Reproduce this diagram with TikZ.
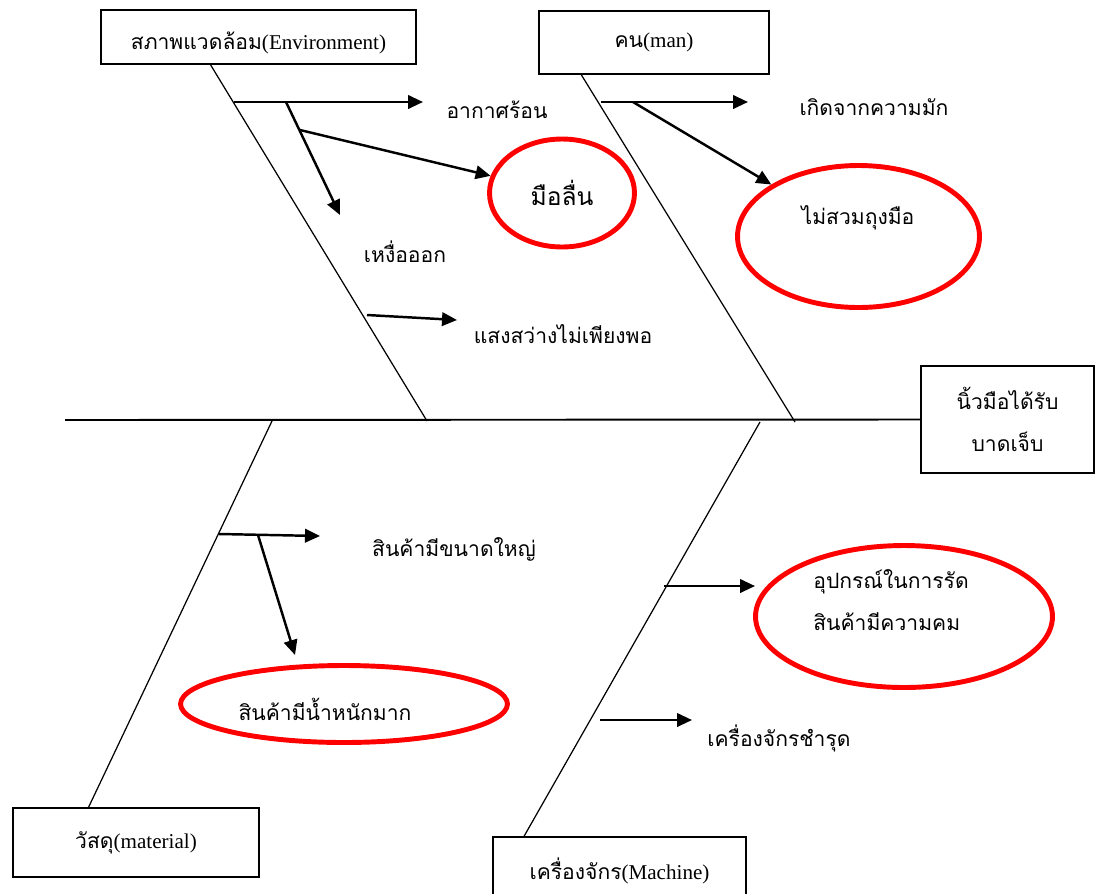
\documentclass[tikz,border=0pt]{standalone}
\usepackage{fontspec}
\setmainfont{Liberation Serif}
\newfontfamily\thaifont[Script=Thai]{Loma}
\usetikzlibrary{arrows.meta,shapes.geometric,calc}

\begin{document}
\begin{tikzpicture}
    [x=0.02cm, y=-0.02cm,
    font=\fontsize{12}{14}\selectfont,
    catbox/.style={draw, line width=1.1pt, rectangle, inner sep=0pt},
    bone/.style={draw, line width=0.7pt},
    cause/.style={draw, line width=1.4pt, -{Triangle[length=0.3cm,width=0.27cm]}},
    redring/.style={draw=red, line width=2.8pt, ellipse, inner sep=0pt},
    causetext/.style={font=\thaifont\fontsize{12}{14}\selectfont, inner sep=0pt}]
    \useasboundingbox (0,0) rectangle (1095,893);
    % head and spine
    \node[catbox, minimum width=3.46cm, minimum height=2.14cm, align=center,
        font=\thaifont\fontsize{12}{14}\selectfont] (injury) at (1007.5,419.5)
        {นิ้วมือได้รับ\\[10pt]บาดเจ็บ};
    \coordinate (tail) at (65,420);
    \draw[line width=1.1pt] (tail) -- (injury.west);
    % category boxes
    \node[catbox, minimum width=6.3cm, minimum height=1.08cm, text height=0.6cm, text depth=0.1cm]
        (envBox) at (258.5,37) {{\thaifont สภาพแวดล้อม}(Environment)};
    \node[catbox, minimum width=4.6cm, minimum height=1.26cm] (manBox) at (654,42.5)
        {{\thaifont คน}(man)};
    \node[catbox, minimum width=4.92cm, minimum height=1.38cm] (matBox) at (136,842.5)
        {{\thaifont วัสดุ}(material)};
    \node[catbox, minimum width=5.06cm, minimum height=1.36cm] (macBox) at (619.5,871)
        {{\thaifont เครื่องจักร}(Machine)};
    % bones
    \coordinate (envHit) at (427,421);
    \coordinate (manHit) at (795,422);
    \coordinate (matHit) at (272,421);
    \coordinate (macHit) at (760,422);
    \draw[bone] ($(envBox.south west)!0.349!(envBox.south east)$) -- (envHit);
    \draw[bone] ($(manBox.south west)!0.187!(manBox.south east)$) -- (manHit);
    \draw[bone] ($(matBox.north west)!0.309!(matBox.north east)$) -- (matHit);
    \draw[bone] ($(macBox.north west)!0.126!(macBox.north east)$) -- (macHit);
    % environment
    \node[causetext] (heat) at (497,110) {อากาศร้อน};
    \node[causetext] (sweat) at (405,252) {เหงื่อออก};
    \node[causetext] (light) at (563,334) {แสงสว่างไม่เพียงพอ};
    \node[redring, minimum width=2.9cm, minimum height=2.16cm, font=\thaifont\fontsize{14}{16}\selectfont]
        (slip) at (562,193) {มือลื่น};
    \coordinate (envA) at (234,102);
    \coordinate (envAend) at (423,102);
    \coordinate (envB) at (286,102);
    \coordinate (envBend) at (340,215);
    \coordinate (envC) at (300,130);
    \coordinate (envD) at (367,315);
    \coordinate (envDend) at (457,320);
    \draw[cause] (envA) -- (envAend);
    \draw[cause] (envB) -- (envBend);
    \draw[cause] (envC) -- (slip);
    \draw[cause] (envD) -- (envDend);
    % man
    \node[causetext] (habit) at (874,107) {เกิดจากความมัก};
    \node[redring, minimum width=4.84cm, minimum height=2.84cm] (glove) at (858.5,236.5) {};
    \node[causetext] (gloveText) at (858,218) {ไม่สวมถุงมือ};
    \coordinate (manA) at (601,102);
    \coordinate (manAend) at (748,102);
    \coordinate (manB) at (633,102);
    \draw[cause] (manA) -- (manAend);
    \draw[cause] (manB) -- (glove);
    % material
    \node[causetext] (big) at (454,549) {สินค้ามีขนาดใหญ่};
    \node[redring, minimum width=6.54cm, minimum height=1.54cm] (heavy) at (344,704) {};
    \node[causetext] (heavyText) at (325,709) {สินค้ามีน้ำหนักมาก};
    \coordinate (matA) at (219,534);
    \coordinate (matAend) at (320,536);
    \coordinate (matB) at (258,535);
    \coordinate (matBend) at (295,655);
    \draw[cause] (matA) -- (matAend);
    \draw[cause] (matB) -- (matBend);
    % machine
    \node[redring, minimum width=5.94cm, minimum height=2.84cm] (sharp) at (904,616.5) {};
    \node[causetext, anchor=west, align=left] (sharpText) at (813,600)
        {อุปกรณ์ในการรัด\\[10pt]สินค้ามีความคม};
    \node[causetext] (broken) at (779,738) {เครื่องจักรชำรุด};
    \coordinate (macA) at (664,586);
    \coordinate (macAend) at (755,586);
    \coordinate (macB) at (600,720);
    \coordinate (macBend) at (692,720);
    \draw[cause] (macA) -- (macAend);
    \draw[cause] (macB) -- (macBend);
\end{tikzpicture}
\end{document}
